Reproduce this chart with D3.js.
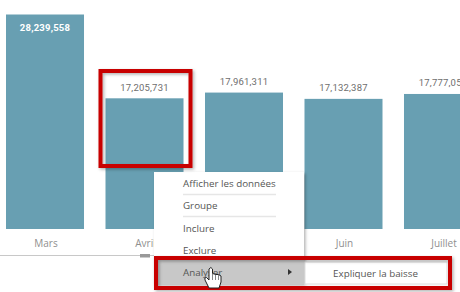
<!DOCTYPE html>
<html lang="en">
<head>
    <meta charset="UTF-8">
    <title></title>
    <style type="text/css">
        html, body { padding:0; margin:0; background:#fff; overflow:hidden; }
        svg { display:block; }
    </style>
</head>
<body>
<script src="https://d3js.org/d3.v7.min.js"></script>
<script type="text/javascript">
    var months = ['Mars', 'Avril', 'Mai', 'Juin', 'Juillet'];
    var values = [28239558, 17205731, 17961311, 17132387, 17777051];
    var menuItems = ['Afficher les données', 'Groupe', 'Inclure', 'Exclure', 'Analyser'];
    var subItem = 'Expliquer la baisse';

    var width = 460,
        height = 292,
        baseline = 229;

    var svg = d3.select('body').append('svg')
            .attr('width', width)
            .attr('height', height);

    var defs = svg.append('defs');
    var shadow = defs.append('filter').attr('id', 'shadow')
            .attr('x', '-10%').attr('y', '-10%').attr('width', '125%').attr('height', '125%');
    shadow.append('feDropShadow')
            .attr('dx', 1.5).attr('dy', 1.5).attr('stdDeviation', 1.5)
            .attr('flood-color', '#000').attr('flood-opacity', 0.3);

    var xScale = d3.scaleBand().domain(months).range([6, 482]).paddingInner(0.216);
    var yScale = d3.scaleLinear().domain([0, 28239558]).range([baseline, 14.5]);
    var fmt = d3.format(',');

    // bars
    svg.selectAll('rect.bar')
        .data(values)
        .enter()
        .append('rect')
        .attr('class', 'bar')
        .attr('x', function(d, i) { return xScale(months[i]); })
        .attr('y', function(d) { return yScale(d); })
        .attr('width', xScale.bandwidth())
        .attr('height', function(d) { return baseline - yScale(d); })
        .attr('fill', '#689fb2');

    // value labels, the tallest one sits inside its bar
    svg.selectAll('text.value')
        .data(values)
        .enter()
        .append('text')
        .attr('class', 'value')
        .attr('x', function(d, i) { return xScale(months[i]) + xScale.bandwidth() / 2; })
        .attr('y', function(d, i) { return i === 0 ? yScale(d) + 16 : yScale(d) - 7.5; })
        .attr('text-anchor', 'middle')
        .attr('font-family', 'Roboto, sans-serif')
        .attr('font-size', 9.5)
        .attr('letter-spacing', 0.2)
        .attr('font-weight', function(d, i) { return i === 0 ? 700 : 400; })
        .attr('fill', function(d, i) { return i === 0 ? '#fff' : '#6e6e6e'; })
        .text(function(d) { return fmt(d); });

    // month axis
    var xAxis = d3.axisBottom(xScale).tickSize(0).tickPadding(0);
    var axisG = svg.append('g')
        .attr('transform', 'translate(1,' + (baseline + 10.5) + ')')
        .call(xAxis);
    axisG.select('.domain').remove();
    axisG.selectAll('text')
        .attr('font-family', '"Open Sans", sans-serif')
        .attr('font-size', 10)
        .attr('fill', '#8f8f8f');

    // scrollbar under the axis
    svg.append('line')
        .attr('x1', 0).attr('x2', 155).attr('y1', 255.5).attr('y2', 255.5)
        .attr('stroke', '#c8c8c8').attr('stroke-width', 1);
    svg.append('rect')
        .attr('x', 140).attr('y', 254).attr('width', 10).attr('height', 3.5)
        .attr('fill', '#999');

    // context menu
    svg.append('rect')
        .attr('x', 154).attr('y', 172).attr('width', 150).attr('height', 112)
        .attr('fill', '#fff').attr('filter', 'url(#shadow)');
    svg.append('rect')
        .attr('x', 157).attr('y', 260).attr('width', 147).attr('height', 25)
        .attr('fill', '#c8c8c8');

    var menuY = d3.scaleOrdinal().domain(menuItems).range([187, 209, 232, 253.5, 276]);
    svg.selectAll('text.item')
        .data(menuItems)
        .enter()
        .append('text')
        .attr('class', 'item')
        .attr('x', 183)
        .attr('y', function(d) { return menuY(d); })
        .attr('font-family', '"Open Sans", sans-serif')
        .attr('font-size', 9.8)
        .attr('fill', '#555')
        .text(function(d) { return d; });

    svg.selectAll('line.sep')
        .data([194, 216])
        .enter()
        .append('line')
        .attr('class', 'sep')
        .attr('x1', 183).attr('x2', 276)
        .attr('y1', function(d) { return d + 0.5; })
        .attr('y2', function(d) { return d + 0.5; })
        .attr('stroke', '#e6e6e6').attr('stroke-width', 1.5);

    // arrow of the Analyser item
    svg.append('path')
        .attr('d', d3.line()([[288, 269], [288, 275], [292, 272]]))
        .attr('fill', '#333');

    // submenu
    svg.append('rect')
        .attr('x', 305).attr('y', 262).attr('width', 142).attr('height', 22)
        .attr('fill', '#fff').attr('stroke', '#ddd');
    svg.append('text')
        .attr('x', 375.5).attr('y', 277)
        .attr('text-anchor', 'middle')
        .attr('font-family', '"Open Sans", sans-serif')
        .attr('font-size', 9.8)
        .attr('fill', '#555')
        .text(subItem);

    // red highlight frames
    svg.selectAll('rect.frame')
        .data([[100.5, 71, 90, 95], [156, 258, 294, 30]])
        .enter()
        .append('rect')
        .attr('class', 'frame')
        .attr('x', function(d) { return d[0]; })
        .attr('y', function(d) { return d[1]; })
        .attr('width', function(d) { return d[2]; })
        .attr('height', function(d) { return d[3]; })
        .attr('fill', 'none')
        .attr('stroke', '#c80000')
        .attr('stroke-width', 4)
        .attr('filter', 'url(#shadow)');

    // hand cursor
    svg.append('path')
        .attr('d', 'M209 269 L209 280 L206.5 277.5 Q204 277 205 280 L209 288 L219 288 L221 282 L221 276 L218.5 274.5 L216 274.5 L212.5 273.5 L212.5 269 Q211 266 209 269 Z')
        .attr('fill', '#fff')
        .attr('stroke', '#222')
        .attr('stroke-width', 1);
    svg.append('path')
        .attr('d', 'M212.5 274 V280 M215.5 275 V280 M218.5 275 V280')
        .attr('fill', 'none')
        .attr('stroke', '#555')
        .attr('stroke-width', 0.7);
</script>
</body>
</html>
